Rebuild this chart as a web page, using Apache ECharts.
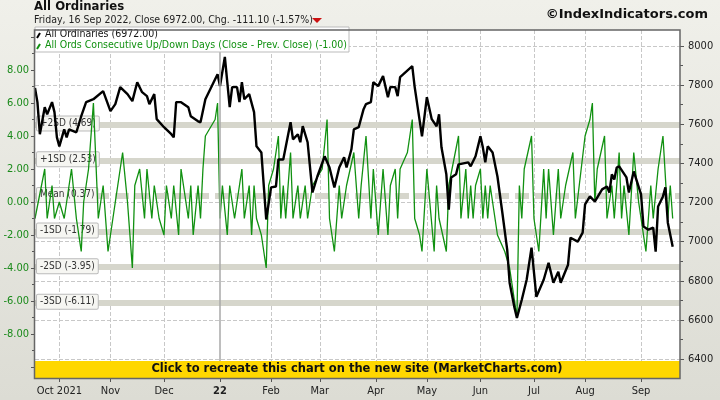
<!DOCTYPE html>
<html>
<head>
<meta charset="utf-8">
<script src="https://cdn.jsdelivr.net/npm/echarts@6/dist/echarts.min.js"></script>
<style>
  html, body { margin: 0; padding: 0; }
  #chart { width: 720px; height: 400px; }
</style>
</head>
<body>
<div id="chart"></div>
<script>
// trading-day index (from 17 Sep 2021) and close of the All Ordinaries
const closeDay = [0,1,2,4,5,7,8,9,10,12,13,14,17,19,21,24,28,31,33,35,38,40,42,44,46,47,49,50,53,56,57,58,60,63,64,67,68,70,75,76,78,79,80,81,83,84,85,86,88,90,91,93,95,97,99,100,102,105,106,108,109,110,112,114,116,119,121,123,125,127,128,130,131,133,135,136,138,139,141,143,145,146,148,149,150,155,156,159,161,163,165,166,167,169,170,171,173,174,178,179,181,183,184,185,186,188,190,192,194,195,197,198,200,202,204,206,209,211,213,215,216,219,220,223,225,226,228,230,233,235,236,237,238,239,240,243,244,246,249,250,252,254,255,256,258,259,260,262];
const closeVal = [7785,7713,7549,7687,7651,7713,7662,7533,7487,7574,7533,7574,7559,7641,7713,7728,7769,7667,7703,7790,7754,7718,7815,7764,7744,7703,7754,7626,7585,7549,7533,7713,7713,7687,7641,7615,7610,7728,7856,7795,7944,7815,7687,7790,7790,7713,7815,7728,7754,7662,7487,7456,7113,7277,7282,7420,7420,7610,7523,7549,7508,7590,7508,7251,7333,7436,7379,7277,7379,7431,7379,7472,7574,7585,7677,7703,7713,7815,7795,7846,7738,7790,7790,7744,7841,7897,7790,7538,7738,7626,7590,7651,7482,7344,7164,7328,7344,7395,7405,7385,7436,7538,7482,7405,7487,7456,7333,7149,6959,6790,6662,6610,6703,6805,6969,6718,6805,6892,6790,6846,6790,6882,7020,7000,7046,7190,7231,7205,7267,7282,7251,7344,7318,7379,7385,7328,7251,7359,7241,7077,7061,7072,6949,7180,7231,7277,7097,6974];

// consecutive up/down days
const upDownDay = [0,4,5,7,8,10,12,13,15,17,19,20,22,24,26,28,30,33,36,38,40,41,43,45,46,48,49,51,53,54,56,57,59,60,63,64,65,67,68,69,70,74,75,76,77,79,80,82,85,86,88,89,90,91,93,95,96,98,100,101,102,103,105,106,108,109,111,112,114,118,120,121,123,125,126,128,131,133,134,136,138,139,141,143,145,146,148,149,150,153,155,156,158,159,161,164,165,166,169,170,174,175,177,178,179,180,181,183,184,185,186,187,190,193,195,196,197,198,199,200,201,204,205,207,209,210,211,213,215,216,218,221,222,226,228,229,230,231,234,235,237,238,240,241,242,244,246,248,251,253,254,256,258,260,261,262];
const upDownVal = [-1,2,-1,1,-1,0,-1,0,2,-1,-3,0,2,6,-1,1,-3,0,3,0,-4,1,2,-1,2,-1,1,-1,-2,1,-1,1,-2,2,-1,1,-2,1,-1,2,4,5,6,-1,1,-2,1,-1,2,-1,1,-2,1,-1,-2,-4,1,2,4,-1,1,-1,3,-1,1,-1,1,-1,1,2,5,-1,-3,1,-1,1,3,-1,1,4,-1,2,-2,2,-2,1,2,-1,2,3,5,-1,-2,-3,2,-3,1,-1,-3,1,4,-1,2,-1,1,-1,1,2,-1,1,-1,1,-2,-3,-4,-5,-6,-7,1,-1,2,4,-1,-3,2,-1,2,-2,2,-1,1,3,-1,4,5,6,0,2,4,-1,1,-1,3,-1,1,-2,3,0,-3,1,-1,2,4,-1,1,-1];

const sdBands = [
  { name: "+2SD", value: 4.69 },
  { name: "+1SD", value: 2.53 },
  { name: "Mean", value: 0.37 },
  { name: "-1SD", value: -1.79 },
  { name: "-2SD", value: -3.95 },
  { name: "-3SD", value: -6.11 },
];

const monthNames = ["Jan","Feb","Mar","Apr","May","Jun","Jul","Aug","Sep","Oct","Nov","Dec"];

// weekday categories
const days = [];
const firstOfMonth = {};
let d = new Date(2021, 8, 17);
let lastMonth = -1;
while (days.length < 266) {
  if (d.getDay() !== 0 && d.getDay() !== 6) {
    if (d.getMonth() !== lastMonth) {
      if (lastMonth !== -1) firstOfMonth[days.length] = d.getMonth() === 0 ? "22" : (d.getMonth() === 9 ? "Oct 2021" : monthNames[d.getMonth()]);
      lastMonth = d.getMonth();
    }
    days.push(String(days.length));
  }
  d.setDate(d.getDate() + 1);
}
const janIdx = Number(Object.keys(firstOfMonth).find((k) => firstOfMonth[k] === "22"));

const pairs = (xs, ys) => xs.map((x, i) => [String(x), ys[i]]);
const L = 35, R = 40;
const font = "DejaVu Sans Condensed";

const chart = echarts.init(document.getElementById("chart"));
chart.setOption({
  animation: false,
  backgroundColor: new echarts.graphic.LinearGradient(0, 0, 0, 1, [
    { offset: 0, color: "#f0f0ea" }, { offset: 1, color: "#dcdcd4" }]),
  textStyle: { fontFamily: font },
  grid: [
    { left: L, right: R, top: 30, bottom: 22, backgroundColor: "#fff", show: true, borderWidth: 0 },
    { left: L, right: R, top: 46, bottom: 41 },
    { left: L, right: R, top: 37, bottom: 33 },
  ],
  xAxis: [0, 1, 2].map((g) => ({
    type: "category", gridIndex: g, data: days, boundaryGap: false,
    show: g === 0,
    axisLine: { show: false },
    axisTick: { interval: (i) => firstOfMonth[i] !== undefined, length: 4, lineStyle: { color: "#555" } },
    axisLabel: {
      interval: (i) => firstOfMonth[i] !== undefined,
      formatter: (v) => (firstOfMonth[v] === "22" ? "{b|22}" : firstOfMonth[v] || ""),
      color: "#222", fontSize: 11, margin: 8,
      rich: { b: { fontWeight: "bold", fontSize: 11, color: "#222" } },
    },
    splitLine: { show: g === 0, interval: (i) => firstOfMonth[i] !== undefined && i !== janIdx,
      lineStyle: { color: "#c8c8c8", type: "dashed" } },
  })),
  yAxis: [
    { type: "value", gridIndex: 0, show: false, min: 0, max: 1 },
    { type: "value", gridIndex: 1, position: "right", min: 6400, max: 8000, interval: 200,
      axisLine: { show: false }, axisTick: { show: true, length: 4, lineStyle: { color: "#555" } },
      minorTick: { show: true, splitNumber: 2, length: 3, lineStyle: { color: "#555" } },
      axisLabel: { color: "#222", fontSize: 11, margin: 8, formatter: (v) => String(v) },
      splitLine: { lineStyle: { color: "#c8c8c8", type: "dashed" } } },
    { type: "value", gridIndex: 2, position: "left", min: -10, max: 10, interval: 2,
      axisLine: { show: false }, axisTick: { show: true, length: 4, lineStyle: { color: "#555" } },
      minorTick: { show: true, splitNumber: 2, length: 3, lineStyle: { color: "#555" } },
      axisLabel: { color: "#1a8a1a", fontSize: 11, margin: 6,
        formatter: (v) => (Math.abs(v) === 10 ? "" : v.toFixed(2)) },
      splitLine: { show: false } },
  ],
  series: [
    { type: "line", xAxisIndex: 0, yAxisIndex: 0, data: [], silent: true,
      markLine: { symbol: "none", silent: true, label: { show: false },
        lineStyle: { color: "#a8a8a8", type: "solid", width: 1.5 },
        data: [{ xAxis: String(janIdx) }] } },
    { type: "line", xAxisIndex: 2, yAxisIndex: 2, data: pairs(upDownDay, upDownVal),
      symbol: "none", lineStyle: { color: "#119111", width: 1.3 }, z: 3,
      markLine: { symbol: "none", silent: true, z: 1,
        data: sdBands.map((b) => ({ yAxis: b.value,
          lineStyle: { color: "#d6d6cc", width: 6, type: b.name === "Mean" ? [14, 6] : "solid" },
          label: { formatter: `${b.name} (${b.value.toFixed(2)})` } })),
        label: { show: true, position: "insideStartTop", distance: [2, -6], fontSize: 10, color: "#333",
          backgroundColor: "#f6f6f2", borderColor: "#bbb", borderWidth: 1, padding: [2, 3], borderRadius: 1 } } },
    { type: "line", xAxisIndex: 1, yAxisIndex: 1, data: pairs(closeDay, closeVal),
      symbol: "none", lineStyle: { color: "#000", width: 2.4 }, z: 4 },
  ],
  graphic: { elements: [
    { type: "text", left: 34, top: 0, z: 100, style: { text: "All Ordinaries", font: `bold 13px ${font}`, fill: "#111" } },
    { type: "text", left: 34, top: 15, z: 100, style: { text: "Friday, 16 Sep 2022, Close 6972.00, Chg. -111.10 (-1.57%)", font: `10.5px ${font}`, fill: "#222" } },
    { type: "polygon", z: 100, shape: { points: [[312, 18], [322, 18], [317, 23]] }, style: { fill: "#cc1111" } },
    { type: "text", right: 12, top: 8, z: 100, style: { text: "©IndexIndicators.com", font: `bold 13px DejaVu Sans`, fill: "#111" } },
    { type: "rect", z: 100, shape: { x: 35, y: 27, width: 314, height: 25 }, style: { fill: "#ffffff", stroke: "#bbbbbb", lineWidth: 1 } },
    { type: "line", z: 101, shape: { x1: 37, y1: 38, x2: 40, y2: 33 }, style: { stroke: "#000", lineWidth: 2 } },
    { type: "text", left: 45, top: 29, z: 101, style: { text: "All Ordinaries (6972.00)", font: `10.5px ${font}`, fill: "#111" } },
    { type: "line", z: 101, shape: { x1: 37, y1: 49, x2: 40, y2: 44 }, style: { stroke: "#119111", lineWidth: 2 } },
    { type: "text", left: 45, top: 40, z: 101, style: { text: "All Ords Consecutive Up/Down Days (Close - Prev. Close) (-1.00)", font: `10.5px ${font}`, fill: "#119111" } },
    { type: "rect", z: 100, shape: { x: 35, y: 361, width: 645, height: 17 }, style: { fill: "#ffd700" } },
    { type: "text", x: 357, y: 369, z: 101, style: { text: "Click to recreate this chart on the new site (MarketCharts.com)", font: `bold 11.5px DejaVu Sans`, fill: "#111", align: "center", verticalAlign: "middle" } },
    { type: "rect", z: 102, shape: { x: 34.5, y: 30, width: 645.5, height: 348.5 }, style: { fill: "none", stroke: "#666", lineWidth: 1.5 } },
  ] },
});
</script>
</body>
</html>
